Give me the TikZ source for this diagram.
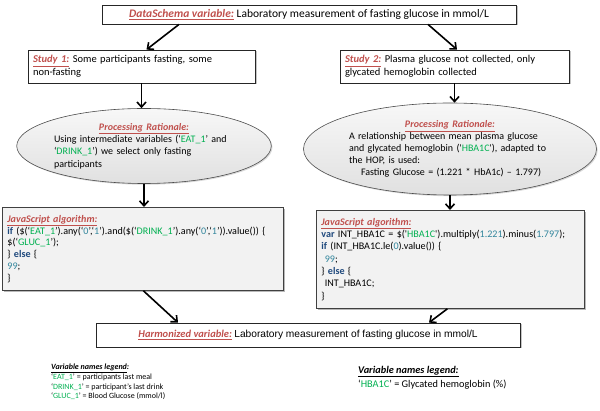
\documentclass[tikz,border=0pt]{standalone}
\usepackage{fontspec}
\setmainfont{Carlito}
\newfontfamily\arialfont{Liberation Sans}
\usepackage{textcomp}
\usetikzlibrary{shapes.geometric,shadows,arrows.meta}
\definecolor{hdred}{HTML}{C0504D}
\definecolor{vargreen}{HTML}{00B050}
\definecolor{kwblue}{HTML}{1F497D}
\definecolor{numteal}{HTML}{31859C}
\definecolor{codebg}{HTML}{F2F2F2}
\newcommand\lbl[1]{\textcolor{hdred}{\underline{\textbf{\textit{#1}}}}}
\newcommand\vn[1]{\textcolor{vargreen}{#1}}
\newcommand\kw[1]{\textcolor{kwblue}{\textbf{#1}}}
\newcommand\nm[1]{\textcolor{numteal}{#1}}
\newcommand\sq{\textquotesingle}
\begin{document}
\begin{tikzpicture}[x=1pt,y=-1pt,
  box/.style={draw=black!85, line width=0.8pt, fill=white, inner xsep=5pt,
    drop shadow={shadow xshift=1.5pt, shadow yshift=-1.5pt, fill=black!45}},
  rat/.style={ellipse, draw=black!70, line width=0.6pt, inner sep=0pt,
    top color=black!3, bottom color=black!12,
    drop shadow={shadow xshift=1.2pt, shadow yshift=-1.2pt, fill=black!30}},
  code/.style={draw=black!75, line width=0.8pt, fill=codebg, anchor=north west,
    align=left, inner xsep=5pt, inner ysep=3pt,
    font=\fontsize{10.1}{11.7}\selectfont,
    drop shadow={shadow xshift=2pt, shadow yshift=-2pt, fill=black!55}},
  legend/.style={anchor=north west, align=left, inner sep=0pt,
    font=\fontsize{8}{9.6}\selectfont},
  flow/.style={-{Straight Barb[length=5pt,width=9pt]}, line width=1.6pt}]
\useasboundingbox (0,0) rectangle (600,411);

% top
\node[box, minimum width=414pt, minimum height=19pt,
  font=\fontsize{11.5}{13}\selectfont] (schema) at (309,14.5)
  {\lbl{DataSchema variable:} Laboratory measurement of fasting glucose in mmol/L};

% studies
\node[box, text width=217pt, minimum height=33pt, align=left,
  font=\fontsize{10.5}{13}\selectfont] (study1) at (141.5,66.5)
  {\lbl{Study 1:} Some participants fasting, some\\non-fasting};
\node[box, text width=219pt, minimum height=33pt, align=left,
  font=\fontsize{10.5}{13}\selectfont] (study2) at (454.5,66.5)
  {\lbl{Study 2:} Plasma glucose not collected, only\\glycated hemoglobin collected};

% rationales
\node[rat, minimum width=254pt, minimum height=75pt, text width=180pt, align=left,
  font=\fontsize{10}{12.2}\selectfont] (rat1) at (144,146)
  {\makebox[\linewidth]{\lbl{Processing Rationale:}}\\
   Using intermediate variables (‘\vn{EAT\_1}’ and\\
   ‘\vn{DRINK\_1}’) we select only fasting\\
   participants};
\node[rat, minimum width=293pt, minimum height=92pt, text width=202pt, align=left,
  font=\fontsize{10}{11.9}\selectfont] (rat2) at (450,149)
  {\makebox[\linewidth]{\lbl{Processing Rationale:}}\\
   A relationship between mean plasma glucose\\
   and glycated hemoglobin (\sq\vn{HBA1C}\sq), adapted to\\
   the HOP, is used:\\
   \hspace*{12pt}Fasting Glucose = (1.221 * HbA1c) – 1.797)};

% algorithms
\node[code, minimum width=281pt, minimum height=83pt, text width=271pt] (js1) at (2,207)
  {\lbl{JavaScript algorithm:}\\
   \kw{if} (\$(‘\vn{EAT\_1}’).any(‘\nm{0}’,‘\nm{1}’).and(\$(‘\vn{DRINK\_1}’).any(‘\nm{0}’,‘\nm{1}’)).value()) \{\\
   \$(‘\vn{GLUC\_1}’);\\
   \} \kw{else} \{\\
   \nm{99};\\
   \}};
\node[code, minimum width=268pt, minimum height=98pt, text width=258pt,
  font=\fontsize{10.1}{12.3}\selectfont] (js2) at (316,210)
  {\lbl{JavaScript algorithm:}\\
   \kw{var} INT\_HBA1C = \$(\sq\vn{HBA1C}\sq).multiply(\nm{1.221}).minus(\nm{1.797});\\
   \kw{if} (INT\_HBA1C.le(\nm{0}).value()) \{\\
   \ \nm{99};\\
   \} \kw{else} \{\\
   \ INT\_HBA1C;\\
   \}};

% result
\node[box, minimum width=424pt, minimum height=24pt,
  font=\fontsize{10.5}{12}\selectfont] (harm) at (308,335)
  {\lbl{Harmonized variable:} {\arialfont\fontsize{10.2}{12}\selectfont Laboratory measurement of fasting glucose in mmol/L}};

% legends
\node[legend] (leg1) at (51,364)
  {\underline{\textbf{\textit{Variable names legend}}}\textbf{\textit{:}}\\
   ‘\vn{EAT\_1}’ = participants last meal\\
   ‘\vn{DRINK\_1}’ = participant’s last drink\\
   ‘\vn{GLUC\_1}’ = Blood Glucose (mmol/l)};
\node[legend, font=\fontsize{10.3}{14}\selectfont] (leg2) at (358,366)
  {\underline{\textbf{\textit{Variable names legend:}}}\\
   ‘\vn{HBA1C}’ = Glycated hemoglobin (\%)};

% arrows
\draw[flow] ([xshift=-130pt]schema.south) -- ([xshift=5pt]study1.north);
\draw[flow] ([xshift=119pt]schema.south) -- ([xshift=2.5pt]study2.north);
\draw[flow] (study1.south) -- (study1.south |- rat1.north);
\draw[flow] (study2.south) -- (study2.south |- rat2.north);
\draw[flow] (rat1.south) -- (rat1.south |- js1.north);
\draw[flow] (rat2.south) -- (rat2.south |- js2.north);
\draw[flow] ([xshift=0.5pt]js1.south) -- ([xshift=-130pt]harm.north);
\draw[flow] ([xshift=-3pt]js2.south) -- ([xshift=121pt]harm.north);

\end{tikzpicture}
\end{document}
